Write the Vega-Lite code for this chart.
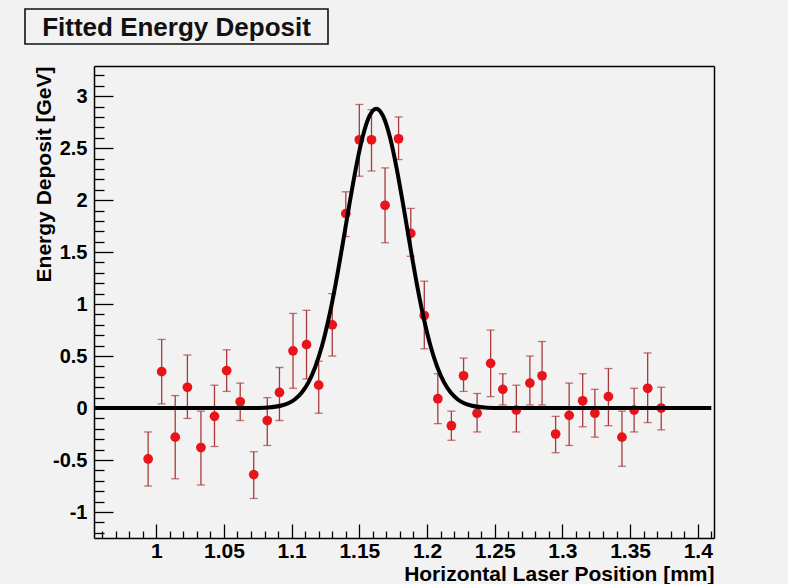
{
  "$schema": "https://vega.github.io/schema/vega-lite/v6.json",
  "background": "#f2f2f2",
  "padding": {"left": 24, "top": 8, "right": 74, "bottom": 0},
  "spacing": 20,
  "config": {"font": "Liberation Sans", "view": {"stroke": null}},
  "datasets": {
    "points": [
      {"x": 0.994, "val": -0.49, "lo": -0.75, "hi": -0.23},
      {"x": 1.004, "val": 0.35, "lo": 0.04, "hi": 0.66},
      {"x": 1.014, "val": -0.28, "lo": -0.68, "hi": 0.12},
      {"x": 1.023, "val": 0.20, "lo": -0.10, "hi": 0.51},
      {"x": 1.033, "val": -0.38, "lo": -0.74, "hi": -0.03},
      {"x": 1.043, "val": -0.08, "lo": -0.37, "hi": 0.22},
      {"x": 1.052, "val": 0.36, "lo": 0.16, "hi": 0.56},
      {"x": 1.062, "val": 0.06, "lo": -0.12, "hi": 0.24},
      {"x": 1.072, "val": -0.64, "lo": -0.87, "hi": -0.42},
      {"x": 1.082, "val": -0.12, "lo": -0.36, "hi": 0.10},
      {"x": 1.091, "val": 0.15, "lo": -0.12, "hi": 0.39},
      {"x": 1.101, "val": 0.55, "lo": 0.19, "hi": 0.91},
      {"x": 1.111, "val": 0.61, "lo": 0.28, "hi": 0.94},
      {"x": 1.120, "val": 0.22, "lo": -0.05, "hi": 0.45},
      {"x": 1.130, "val": 0.80, "lo": 0.50, "hi": 1.10},
      {"x": 1.140, "val": 1.87, "lo": 1.65, "hi": 2.08},
      {"x": 1.150, "val": 2.58, "lo": 2.23, "hi": 2.92},
      {"x": 1.159, "val": 2.58, "lo": 2.28, "hi": 2.87},
      {"x": 1.169, "val": 1.95, "lo": 1.59, "hi": 2.31},
      {"x": 1.179, "val": 2.59, "lo": 2.39, "hi": 2.80},
      {"x": 1.188, "val": 1.68, "lo": 1.46, "hi": 1.92},
      {"x": 1.198, "val": 0.89, "lo": 0.57, "hi": 1.22},
      {"x": 1.208, "val": 0.09, "lo": -0.15, "hi": 0.33},
      {"x": 1.218, "val": -0.17, "lo": -0.31, "hi": -0.03},
      {"x": 1.227, "val": 0.31, "lo": 0.16, "hi": 0.48},
      {"x": 1.237, "val": -0.05, "lo": -0.23, "hi": 0.14},
      {"x": 1.247, "val": 0.43, "lo": 0.11, "hi": 0.75},
      {"x": 1.256, "val": 0.18, "lo": 0.03, "hi": 0.33},
      {"x": 1.266, "val": -0.02, "lo": -0.23, "hi": 0.22},
      {"x": 1.276, "val": 0.24, "lo": 0.03, "hi": 0.50},
      {"x": 1.285, "val": 0.31, "lo": 0.03, "hi": 0.64},
      {"x": 1.295, "val": -0.25, "lo": -0.43, "hi": -0.08},
      {"x": 1.305, "val": -0.07, "lo": -0.36, "hi": 0.24},
      {"x": 1.315, "val": 0.07, "lo": -0.18, "hi": 0.33},
      {"x": 1.324, "val": -0.05, "lo": -0.28, "hi": 0.18},
      {"x": 1.334, "val": 0.11, "lo": -0.17, "hi": 0.38},
      {"x": 1.344, "val": -0.28, "lo": -0.56, "hi": -0.03},
      {"x": 1.353, "val": -0.02, "lo": -0.23, "hi": 0.19},
      {"x": 1.363, "val": 0.19, "lo": -0.14, "hi": 0.53},
      {"x": 1.373, "val": 0.00, "lo": -0.21, "hi": 0.20}
    ],
    "fit": [
      {"x": 0.954, "y": 0},
      {"x": 1.0, "y": 0},
      {"x": 1.05, "y": 0},
      {"x": 1.0625, "y": 0},
      {"x": 1.0725, "y": 0.001},
      {"x": 1.0825, "y": 0.0055},
      {"x": 1.0925, "y": 0.024},
      {"x": 1.0975, "y": 0.046},
      {"x": 1.1025, "y": 0.085},
      {"x": 1.1075, "y": 0.149},
      {"x": 1.1125, "y": 0.249},
      {"x": 1.1175, "y": 0.397},
      {"x": 1.1225, "y": 0.601},
      {"x": 1.1275, "y": 0.868},
      {"x": 1.1325, "y": 1.193},
      {"x": 1.1375, "y": 1.562},
      {"x": 1.1425, "y": 1.947},
      {"x": 1.1475, "y": 2.311},
      {"x": 1.1525, "y": 2.611},
      {"x": 1.1575, "y": 2.81},
      {"x": 1.1625, "y": 2.88},
      {"x": 1.1675, "y": 2.81},
      {"x": 1.1725, "y": 2.611},
      {"x": 1.1775, "y": 2.311},
      {"x": 1.1825, "y": 1.947},
      {"x": 1.1875, "y": 1.562},
      {"x": 1.1925, "y": 1.193},
      {"x": 1.1975, "y": 0.868},
      {"x": 1.2025, "y": 0.601},
      {"x": 1.2075, "y": 0.397},
      {"x": 1.2125, "y": 0.249},
      {"x": 1.2175, "y": 0.149},
      {"x": 1.2225, "y": 0.085},
      {"x": 1.2275, "y": 0.046},
      {"x": 1.2325, "y": 0.024},
      {"x": 1.2425, "y": 0.0055},
      {"x": 1.2525, "y": 0.001},
      {"x": 1.2625, "y": 0},
      {"x": 1.3, "y": 0},
      {"x": 1.35, "y": 0},
      {"x": 1.41, "y": 0}
    ]
  },
  "vconcat": [
    {
      "width": 303,
      "height": 35,
      "view": {"stroke": "#111111", "strokeWidth": 1.6, "fill": "#f2f2f2"},
      "data": {"values": [{"label": "Fitted Energy Deposit"}]},
      "mark": {"type": "text", "font": "Liberation Sans", "fontWeight": "bold", "fontSize": 26, "color": "#111111", "baseline": "middle", "align": "center", "dy": 1},
      "encoding": {"text": {"field": "label", "type": "nominal"}}
    },
    {
      "width": 689,
      "height": 472,
      "view": {"stroke": null},
      "resolve": {"axis": {"x": "independent", "y": "independent"}},
      "layer": [
        {
          "data": {"name": "points"},
          "mark": {"type": "rule", "color": "#a83a3a", "strokeWidth": 1.3},
          "encoding": {
            "x": {
              "field": "x",
              "type": "quantitative",
              "title": "Horizontal Laser Position [mm]",
              "scale": {"domain": [0.954, 1.412], "range": [69, 689], "nice": false, "zero": false},
              "axis": {
                "orient": "bottom",
                "values": [0.96, 0.97, 0.98, 0.99, 1, 1.01, 1.02, 1.03, 1.04, 1.05, 1.06, 1.07, 1.08, 1.09, 1.1, 1.11, 1.12, 1.13, 1.14, 1.15, 1.16, 1.17, 1.18, 1.19, 1.2, 1.21, 1.22, 1.23, 1.24, 1.25, 1.26, 1.27, 1.28, 1.29, 1.3, 1.31, 1.32, 1.33, 1.34, 1.35, 1.36, 1.37, 1.38, 1.39, 1.4, 1.41],
                "domain": true,
                "domainColor": "#000000",
                "domainWidth": 1.6,
                "grid": false,
                "tickColor": "#000000",
                "tickWidth": 1.3,
                "tickSize": {"condition": {"test": "abs(datum.value*20 - round(datum.value*20)) < 0.001", "value": -14}, "value": -7},
                "labelExpr": "abs(datum.value*20 - round(datum.value*20)) < 0.001 ? '' + round(datum.value*100)/100 : ''",
                "labelFont": "Liberation Sans",
                "labelFontWeight": "bold",
                "labelFontSize": 21,
                "labelColor": "#000000",
                "labelPadding": 16,
                "labelOverlap": false,
                "labelFlush": false,
                "titleFont": "Liberation Sans",
                "titleFontWeight": "bold",
                "titleFontSize": 21,
                "titleColor": "#000000",
                "titleAnchor": "end",
                "titleAlign": "right",
                "titleBaseline": "alphabetic",
                "titleX": 689,
                "titleY": 42
              }
            },
            "y": {
              "field": "lo",
              "type": "quantitative",
              "title": "Energy Deposit [GeV]",
              "scale": {"domain": [-1.25, 3.29], "nice": false, "zero": false},
              "axis": {
                "orient": "left",
                "offset": -69,
                "values": [-1.2, -1.1, -1, -0.9, -0.8, -0.7, -0.6, -0.5, -0.4, -0.3, -0.2, -0.1, 0, 0.1, 0.2, 0.3, 0.4, 0.5, 0.6, 0.7, 0.8, 0.9, 1, 1.1, 1.2, 1.3, 1.4, 1.5, 1.6, 1.7, 1.8, 1.9, 2, 2.1, 2.2, 2.3, 2.4, 2.5, 2.6, 2.7, 2.8, 2.9, 3, 3.1, 3.2],
                "domain": true,
                "domainColor": "#000000",
                "domainWidth": 1.5,
                "grid": false,
                "tickColor": "#000000",
                "tickWidth": 1.3,
                "tickSize": {"condition": {"test": "abs(datum.value*2 - round(datum.value*2)) < 0.001", "value": -19}, "value": -10},
                "labelExpr": "abs(datum.value*2 - round(datum.value*2)) < 0.001 ? '' + round(datum.value*10)/10 : ''",
                "labelFont": "Liberation Sans",
                "labelFontWeight": "bold",
                "labelFontSize": 20,
                "labelColor": "#000000",
                "labelPadding": 26,
                "labelOverlap": false,
                "labelFlush": false,
                "titleFont": "Liberation Sans",
                "titleFontWeight": "bold",
                "titleFontSize": 21,
                "titleColor": "#000000",
                "titleAnchor": "end",
                "titleAngle": 270,
                "titleAlign": "right",
                "titleBaseline": "middle",
                "titleX": -50,
                "titleY": 0
              }
            },
            "y2": {"field": "hi"}
          }
        },
        {
          "data": {"name": "points"},
          "mark": {"type": "tick", "orient": "horizontal", "color": "#a83a3a", "size": 8, "thickness": 1.3},
          "encoding": {
            "x": {
              "field": "x",
              "type": "quantitative",
              "axis": {"orient": "top", "domain": true, "domainColor": "#000000", "domainWidth": 1.5, "ticks": false, "labels": false, "grid": false, "title": null}
            },
            "y": {
              "field": "lo",
              "type": "quantitative",
              "axis": {"orient": "right", "domain": true, "domainColor": "#000000", "domainWidth": 1.5, "ticks": false, "labels": false, "grid": false, "title": null}
            }
          }
        },
        {
          "data": {"name": "points"},
          "mark": {"type": "tick", "orient": "horizontal", "color": "#a83a3a", "size": 8, "thickness": 1.3},
          "encoding": {
            "x": {"field": "x", "type": "quantitative", "axis": null},
            "y": {"field": "hi", "type": "quantitative", "axis": null}
          }
        },
        {
          "data": {"name": "points"},
          "mark": {"type": "circle", "color": "#e8141b", "opacity": 1, "size": 95},
          "encoding": {
            "x": {"field": "x", "type": "quantitative", "axis": null},
            "y": {"field": "val", "type": "quantitative", "axis": null}
          }
        },
        {
          "data": {"name": "fit"},
          "mark": {"type": "line", "color": "#000000", "strokeWidth": 4, "interpolate": "monotone"},
          "encoding": {
            "x": {"field": "x", "type": "quantitative", "axis": null},
            "y": {"field": "y", "type": "quantitative", "axis": null}
          }
        }
      ]
    }
  ]
}
